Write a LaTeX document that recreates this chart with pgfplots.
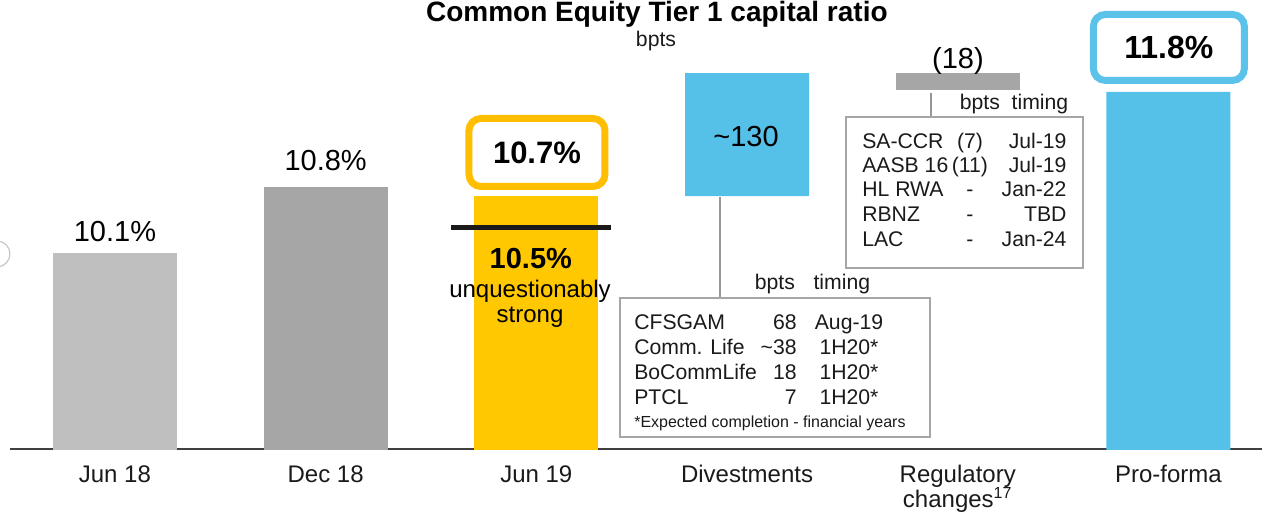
\documentclass[border=0pt]{standalone}
\usepackage{pgfplots}
\pgfplotsset{compat=1.18}
\usepackage{fontspec}
\setmainfont{Liberation Sans}

\definecolor{barlight}{HTML}{BFBFBF}
\definecolor{bardark}{HTML}{A6A6A6}
\definecolor{baryellow}{HTML}{FFC800}
\definecolor{boxorange}{HTML}{FFBF00}
\definecolor{barblue}{HTML}{55C0E8}
\definecolor{boxblue}{HTML}{5BC3EA}
\definecolor{boxgray}{HTML}{A6A6A6}
\definecolor{linegray}{HTML}{969696}
\definecolor{axisgray}{HTML}{404040}
\definecolor{txt}{HTML}{1A1A1A}

\newcommand{\fs}[1]{\fontsize{#1}{#1}\selectfont}

\pgfplotsset{frame/.style={
    width=626pt, height=224.5pt, scale only axis,
    xmin=-0.498, xmax=5.444, ymin=8.03, ymax=12.771}}

\begin{document}
\begin{tikzpicture}
% bars
\begin{axis}[frame,
    axis x line*=bottom, axis y line=none,
    x axis line style={draw=axisgray, line width=1pt, -},
    ybar stacked, bar width=62pt,
    xtick={0,1,2,3,4,5}, ytick=\empty, major tick length=0pt,
    xticklabels={Jun 18, Dec 18, Jun 19, Divestments, {Regulatory\\[-1.2pt]changes\textsuperscript{17}}, Pro-forma},
    xticklabel style={font=\fs{12}, text=txt, align=center, anchor=north, inner sep=0pt, yshift=-8pt},
]
% invisible base for the floating bars
\addplot[draw=none, fill=none] coordinates {(0,0) (1,0) (2,0) (3,10.7) (4,11.82) (5,0)};
\addplot[draw=none, fill=barlight] coordinates {(0,10.1) (1,0) (2,0) (3,0) (4,0) (5,0)};
\addplot[draw=none, fill=bardark] coordinates {(0,0) (1,10.8) (2,0) (3,0) (4,0) (5,0)};
\addplot[draw=none, fill=baryellow] coordinates {(0,0) (1,0) (2,10.7) (3,0) (4,0) (5,0)};
\addplot[draw=none, fill=barblue] coordinates {(0,0) (1,0) (2,0) (3,1.3) (4,0) (5,11.8)};
\addplot[draw=none, fill=bardark] coordinates {(0,0) (1,0) (2,0) (3,0) (4,0.18) (5,0)};
\coordinate (bl) at (rel axis cs:0,0);
\end{axis}

% annotations
\begin{axis}[frame, hide axis, clip=false]
% title
\node[anchor=base, font=\bfseries\fs{14}] at (axis cs:2.572,12.549) {Common Equity Tier 1 capital ratio};
\node[anchor=base, font=\fs{10.6}, text=txt] at (axis cs:2.568,12.275) {bpts};

% value labels
\node[anchor=base, font=\fs{14.5}] at (axis cs:0,10.216) {10.1\%};
\node[anchor=base, font=\fs{14.5}] at (axis cs:1,10.966) {10.8\%};
\node[draw=boxorange, line width=3.5pt, rounded corners=6pt, fill=white,
      minimum width=68pt, minimum height=34pt, inner sep=0pt, font=\bfseries\fs{15.5}]
      at (axis cs:2.003,11.161) {10.7\%};
\node[draw=boxblue, line width=3.5pt, rounded corners=6pt, fill=white,
      minimum width=75.5pt, minimum height=33pt, inner sep=0pt, font=\bfseries\fs{16}]
      at (axis cs:5.002,12.27) {11.8\%};
\node[anchor=base, font=\fs{14.5}] at (axis cs:2.995,11.219) {\textasciitilde130};
\node[anchor=base, font=\fs{14.5}] at (axis cs:4.001,12.053) {(18)};

% 10.5% unquestionably strong
\draw[line width=2.5pt, color=txt] (axis cs:1.595,10.37) -- (axis cs:2.354,10.37);
\node[anchor=base, font=\bfseries\fs{14.5}] at (axis cs:1.974,9.941) {10.5\%};
\node[anchor=base, font=\fs{12}] at (axis cs:1.970,9.635) {unquestionably};
\node[anchor=base, font=\fs{12}] at (axis cs:1.970,9.371) {strong};

% small cut-off outline at the left edge
\draw[black!22, line width=0.6pt] (axis cs:-0.56,10.09) circle[radius=6.5pt];

% divestments table
\draw[linegray, line width=1pt] (axis cs:2.871,10.69) -- (axis cs:2.871,9.624);
\draw[boxgray, line width=1pt] (axis cs:2.397,9.624) rectangle (axis cs:3.868,8.157);
\node[anchor=base, font=\fs{10.6}, text=txt] at (axis cs:3.132,9.709) {bpts};
\node[anchor=base, font=\fs{10.6}, text=txt] at (axis cs:3.450,9.709) {timing};
\begin{scope}[every node/.style={font=\fs{10.6}, text=txt, inner sep=0pt}]
\node[anchor=base west] at (axis cs:2.463,9.287) {CFSGAM};
\node[anchor=base west] at (axis cs:2.463,9.023) {Comm. Life};
\node[anchor=base west] at (axis cs:2.463,8.759) {BoCommLife};
\node[anchor=base west] at (axis cs:2.463,8.505) {PTCL};
\node[anchor=base east] at (axis cs:3.237,9.287) {68};
\node[anchor=base east] at (axis cs:3.237,9.023) {\textasciitilde38};
\node[anchor=base east] at (axis cs:3.237,8.759) {18};
\node[anchor=base east] at (axis cs:3.237,8.505) {7};
\node[anchor=base] at (axis cs:3.484,9.287) {Aug-19};
\node[anchor=base] at (axis cs:3.484,9.023) {1H20*};
\node[anchor=base] at (axis cs:3.484,8.759) {1H20*};
\node[anchor=base] at (axis cs:3.484,8.505) {1H20*};
\node[anchor=base west, font=\fs{8}] at (axis cs:2.463,8.262) {*Expected completion - financial years};
\end{scope}

% regulatory table
\draw[linegray, line width=1pt] (axis cs:3.873,11.79) -- (axis cs:3.873,11.536);
\draw[boxgray, line width=1pt] (axis cs:3.469,11.536) rectangle (axis cs:4.594,9.941);
\node[anchor=base, font=\fs{10.6}, text=txt] at (axis cs:4.105,11.610) {bpts};
\node[anchor=base, font=\fs{10.6}, text=txt] at (axis cs:4.390,11.610) {timing};
\begin{scope}[every node/.style={font=\fs{10.6}, text=txt, inner sep=0pt}]
\node[anchor=base west] at (axis cs:3.545,11.208) {SA-CCR};
\node[anchor=base west] at (axis cs:3.545,10.950) {AASB 16};
\node[anchor=base west] at (axis cs:3.545,10.691) {HL RWA};
\node[anchor=base west] at (axis cs:3.545,10.432) {RBNZ};
\node[anchor=base west] at (axis cs:3.545,10.173) {LAC};
\node[anchor=base] at (axis cs:4.058,11.208) {(7)};
\node[anchor=base] at (axis cs:4.058,10.950) {(11)};
\node[anchor=base] at (axis cs:4.058,10.691) {-};
\node[anchor=base] at (axis cs:4.058,10.432) {-};
\node[anchor=base] at (axis cs:4.058,10.173) {-};
\node[anchor=base east] at (axis cs:4.518,11.208) {Jul-19};
\node[anchor=base east] at (axis cs:4.518,10.950) {Jul-19};
\node[anchor=base east] at (axis cs:4.518,10.691) {Jan-22};
\node[anchor=base east] at (axis cs:4.518,10.432) {TBD};
\node[anchor=base east] at (axis cs:4.518,10.173) {Jan-24};
\end{scope}
\end{axis}
\pgfresetboundingbox
\path[use as bounding box] (bl) ++(-5pt,-31pt) rectangle ++(631pt,255.5pt);
\end{tikzpicture}
\end{document}
